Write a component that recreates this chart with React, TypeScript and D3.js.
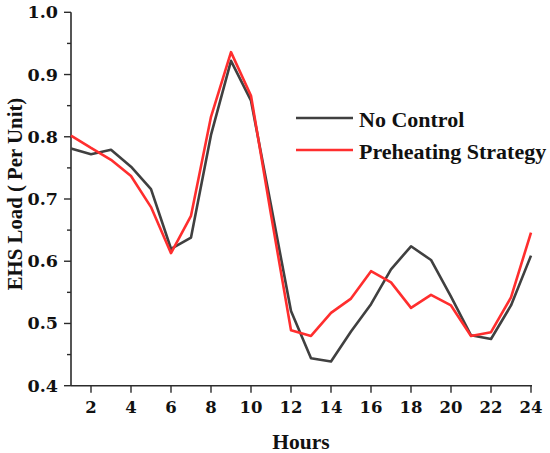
import React, { useEffect, useRef } from 'react'
import * as d3 from 'd3'

const hours = [1, 2, 3, 4, 5, 6, 7, 8, 9, 10, 11, 12, 13, 14, 15, 16, 17, 18, 19, 20, 21, 22, 23, 24]
const noControl = [
  0.781, 0.772, 0.779, 0.752, 0.716, 0.62, 0.638, 0.803, 0.922, 0.858, 0.69, 0.52,
  0.444, 0.439, 0.487, 0.531, 0.587, 0.624, 0.602, 0.543, 0.481, 0.475, 0.529, 0.609,
]
const preheating = [
  0.802, 0.782, 0.763, 0.737, 0.687, 0.613, 0.673, 0.832, 0.936, 0.866, 0.675, 0.489,
  0.48, 0.517, 0.54, 0.584, 0.566, 0.525, 0.546, 0.529, 0.48, 0.486, 0.542, 0.646,
]
const xTicks = [2, 4, 6, 8, 10, 12, 14, 16, 18, 20, 22, 24]
const yTicks = [0.4, 0.5, 0.6, 0.7, 0.8, 0.9, 1.0]
const yMinorTicks = [0.45, 0.55, 0.65, 0.75, 0.85, 0.95]
const seriesNames = ['No Control', 'Preheating Strategy']
const seriesColors = ['#404040', '#ff2e2e']

const W = 550
const H = 453

const App: React.FC = () => {
  const ref = useRef<SVGSVGElement>(null)

  useEffect(() => {
    if (!ref.current) return
    const svg = d3.select(ref.current)
    svg.selectAll('*').remove()

    const left = 71
    const right = 531
    const top = 12.3
    const bottom = 385.7

    const x = d3.scaleLinear().domain([1, 24]).range([left, right])
    const y = d3.scaleLinear().domain([0.4, 1.0]).range([bottom, top])

    const tickFont = '"DejaVu Serif", serif'
    const titleFont = '"Liberation Serif", "Times New Roman", serif'
    const axisColor = '#2b2b2b'

    // y axis
    const yAxis = svg.append('g').attr('transform', `translate(${left},0)`)
    yAxis
      .append('line')
      .attr('x1', 0)
      .attr('x2', 0)
      .attr('y1', top)
      .attr('y2', bottom)
      .attr('stroke', axisColor)
      .attr('stroke-width', 1.6)
    yAxis
      .selectAll('.ymaj')
      .data(yTicks)
      .enter()
      .append('line')
      .attr('x1', -7)
      .attr('x2', 0)
      .attr('y1', d => y(d))
      .attr('y2', d => y(d))
      .attr('stroke', axisColor)
      .attr('stroke-width', 1.4)
    yAxis
      .selectAll('.ymin')
      .data(yMinorTicks)
      .enter()
      .append('line')
      .attr('x1', -4)
      .attr('x2', 0)
      .attr('y1', d => y(d))
      .attr('y2', d => y(d))
      .attr('stroke', axisColor)
      .attr('stroke-width', 1.4)
    yAxis
      .selectAll('.ylab')
      .data(yTicks)
      .enter()
      .append('text')
      .attr('x', -13)
      .attr('y', d => y(d) + 6)
      .attr('text-anchor', 'end')
      .attr('font-family', tickFont)
      .attr('font-weight', 'bold')
      .attr('font-size', 17.5)
      .attr('fill', '#111')
      .text(d => d.toFixed(1))

    // x axis
    const xAxis = svg.append('g').attr('transform', `translate(0,${bottom})`)
    xAxis
      .append('line')
      .attr('x1', left)
      .attr('x2', right + 1)
      .attr('y1', 0)
      .attr('y2', 0)
      .attr('stroke', axisColor)
      .attr('stroke-width', 1.6)
    xAxis
      .selectAll('.xmaj')
      .data(xTicks)
      .enter()
      .append('line')
      .attr('x1', d => x(d))
      .attr('x2', d => x(d))
      .attr('y1', 0)
      .attr('y2', 7)
      .attr('stroke', axisColor)
      .attr('stroke-width', 1.4)
    xAxis
      .selectAll('.xlab')
      .data(xTicks)
      .enter()
      .append('text')
      .attr('x', d => x(d))
      .attr('y', 27.5)
      .attr('text-anchor', 'middle')
      .attr('font-family', tickFont)
      .attr('font-weight', 'bold')
      .attr('font-size', 16.5)
      .attr('fill', '#111')
      .text(d => String(d))

    // titles
    svg
      .append('text')
      .attr('x', (left + right) / 2)
      .attr('y', 449)
      .attr('text-anchor', 'middle')
      .attr('font-family', titleFont)
      .attr('font-weight', 'bold')
      .attr('font-size', 21.5)
      .attr('fill', '#111')
      .text('Hours')
    svg
      .append('text')
      .attr('transform', `translate(22,${(top + bottom) / 2 - 5}) rotate(-90)`)
      .attr('text-anchor', 'middle')
      .attr('font-family', titleFont)
      .attr('font-weight', 'bold')
      .attr('font-size', 20.8)
      .attr('fill', '#111')
      .text('EHS Load ( Per Unit)')

    // lines
    const line = d3
      .line<number>()
      .x((_, i) => x(hours[i]))
      .y(d => y(d))
    ;[noControl, preheating].forEach((s, i) => {
      svg
        .append('path')
        .attr('d', line(s))
        .attr('fill', 'none')
        .attr('stroke', seriesColors[i])
        .attr('stroke-width', 2.6)
        .attr('stroke-linejoin', 'round')
    })

    // legend
    const legend = svg.append('g')
    seriesNames.forEach((name, i) => {
      const ly = 118 + i * 32
      legend
        .append('line')
        .attr('x1', 296)
        .attr('x2', 353)
        .attr('y1', ly)
        .attr('y2', ly)
        .attr('stroke', seriesColors[i])
        .attr('stroke-width', 2.6)
      legend
        .append('text')
        .attr('x', 359)
        .attr('y', ly + 8.5)
        .attr('font-family', titleFont)
        .attr('font-weight', 'bold')
        .attr('font-size', 22)
        .attr('fill', '#111')
        .text(name)
    })
  }, [])

  return (
    <svg
      ref={ref}
      width={W}
      height={H}
      style={{ position: 'absolute', left: 0, top: 0, background: '#fff' }}
    />
  )
}

export default App
